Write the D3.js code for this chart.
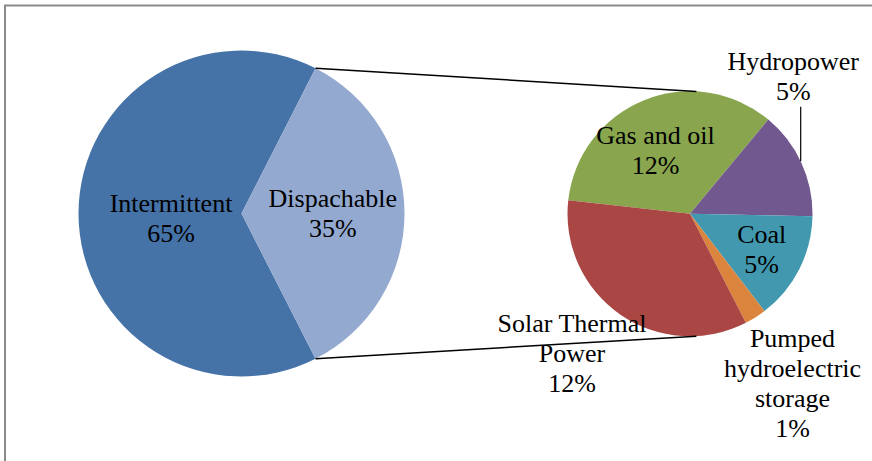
<!DOCTYPE html>
<meta charset="utf-8">
<body style="margin:0">
<svg id="chart" width="872" height="461"></svg>
<script src="https://cdnjs.cloudflare.com/ajax/libs/d3/7.8.5/d3.min.js"></script>
<script>
// main pie
var mainLabels = ["Intermittent", "Dispachable"];
var mainValues = [65, 35];

// breakdown of the dispachable share
var subLabels = ["Gas and oil", "Hydropower", "Coal", "Pumped hydroelectric storage", "Solar Thermal Power"];
var subValues = [12, 5, 5, 1, 12];

var width = 872, height = 461;

var mainColors = ["#4572A7", "#94A9CF"];
var subColors = ["#89A54E", "#71588F", "#4198AF", "#DB843D", "#AA4643"];

var left = {cx: 241.5, cy: 213.5, r: 163};
var right = {cx: 690, cy: 213.8, r: 122.5};

// how the labels wrap, and offsets (from pie centre, first baseline)
var mainText = [["Intermittent"], ["Dispachable"]];
var mainOff = [[-70.5, -1.8], [91.3, -6.8]];
var subText = [["Gas and oil"], ["Hydropower"], ["Coal"], ["Pumped", "hydroelectric", "storage"], ["Solar Thermal", "Power"]];
var subOff = [[-34.5, -69.5], [103.3, -143.8], [71.7, 29.5], [102.5, 132.9], [-118, 118.5]];
var lineH = 30;

var svg = d3.select("#chart");

svg.append("rect")
    .attr("width", width).attr("height", height)
    .attr("fill", "#fff");

// chart frame (only top/left edges visible)
svg.append("rect")
    .attr("x", 5).attr("y", 5.5)
    .attr("width", 1000).attr("height", 1000)
    .attr("fill", "none")
    .attr("stroke", "#8a8a8a")
    .attr("stroke-width", 2);

var rad = Math.PI / 180;

// dispachable slice centred on 3 o'clock
var dispSpan = mainValues[1] / d3.sum(mainValues) * 2 * Math.PI;
var mainPie = d3.pie().sort(null)
    .startAngle(Math.PI / 2 + dispSpan / 2 - 2 * Math.PI)
    .endAngle(Math.PI / 2 + dispSpan / 2);
var mainArcs = mainPie(mainValues);

var subPie = d3.pie().sort(null)
    .startAngle(-83.7 * rad)
    .endAngle(-83.7 * rad + 2 * Math.PI);
var subArcs = subPie(subValues);

var gl = svg.append("g").attr("transform", "translate(" + left.cx + "," + left.cy + ")");
gl.selectAll("path").data(mainArcs).enter().append("path")
    .attr("d", d3.arc().innerRadius(0).outerRadius(left.r))
    .attr("fill", function(d, i) { return mainColors[i]; });

var gr = svg.append("g").attr("transform", "translate(" + right.cx + "," + right.cy + ")");
gr.selectAll("path").data(subArcs).enter().append("path")
    .attr("d", d3.arc().innerRadius(0).outerRadius(right.r))
    .attr("fill", function(d, i) { return subColors[i]; });

// connector lines
function pt(p, a) { return [p.cx + p.r * Math.sin(a), p.cy - p.r * Math.cos(a)]; }
var dArc = mainArcs[1];
var joins = [
  [pt(left, dArc.startAngle), pt(right, 3 * rad)],
  [pt(left, dArc.endAngle), pt(right, 177 * rad)]
];
svg.selectAll("line.join").data(joins).enter().append("line")
    .attr("class", "join")
    .attr("x1", function(d) { return d[0][0]; })
    .attr("y1", function(d) { return d[0][1]; })
    .attr("x2", function(d) { return d[1][0]; })
    .attr("y2", function(d) { return d[1][1]; })
    .attr("stroke", "#000")
    .attr("stroke-width", 1.5);

// hydropower leader line
var lx = 110.7;
svg.append("line")
    .attr("x1", right.cx + lx).attr("x2", right.cx + lx)
    .attr("y1", 106.7)
    .attr("y2", right.cy - Math.sqrt(right.r * right.r - lx * lx))
    .attr("stroke", "#000")
    .attr("stroke-width", 1.2);

function addLabels(g, lines, offs, values) {
  g.selectAll("text.lbl").data(values).enter().append("text")
      .attr("class", "lbl")
      .attr("text-anchor", "middle")
      .attr("font-family", "Liberation Serif")
      .attr("font-size", 26)
      .attr("fill", "#000")
      .each(function(v, i) {
        var t = d3.select(this);
        var ls = lines[i].concat([v + "%"]);
        ls.forEach(function(s, j) {
          t.append("tspan")
              .attr("x", offs[i][0])
              .attr("y", offs[i][1] + j * lineH)
              .text(s);
        });
      });
}
addLabels(gl, mainText, mainOff, mainValues);
addLabels(gr, subText, subOff, subValues);
</script>
</body>
